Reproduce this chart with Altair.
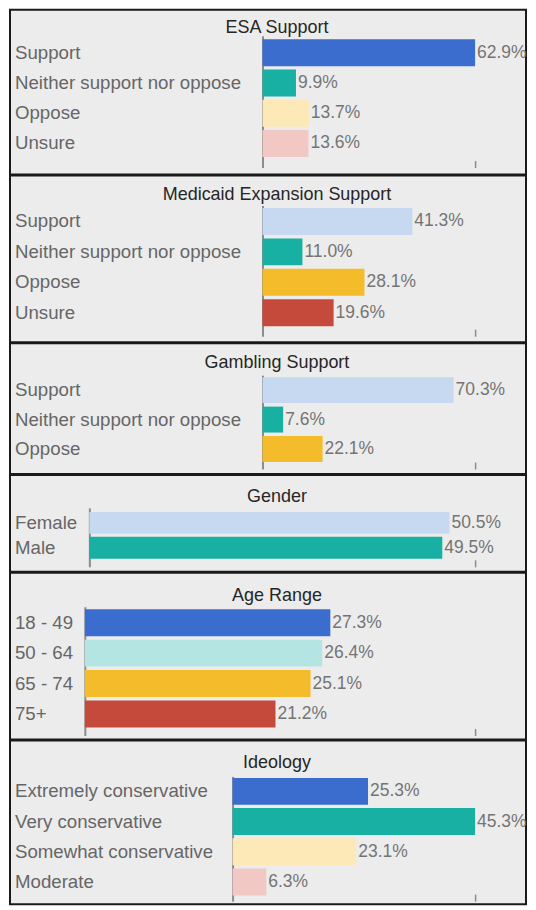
import altair as alt
import pandas as pd

# ---------------- data ----------------
esa_title = "ESA Support"
esa_cats = ["Support", "Neither support nor oppose", "Oppose", "Unsure"]
esa_vals = [62.9, 9.9, 13.7, 13.6]

med_title = "Medicaid Expansion Support"
med_cats = ["Support", "Neither support nor oppose", "Oppose", "Unsure"]
med_vals = [41.3, 11.0, 28.1, 19.6]

gam_title = "Gambling Support"
gam_cats = ["Support", "Neither support nor oppose", "Oppose"]
gam_vals = [70.3, 7.6, 22.1]

gen_title = "Gender"
gen_cats = ["Female", "Male"]
gen_vals = [50.5, 49.5]

age_title = "Age Range"
age_cats = ["18 - 49", "50 - 64", "65 - 74", "75+"]
age_vals = [27.3, 26.4, 25.1, 21.2]

ideo_title = "Ideology"
ideo_cats = ["Extremely conservative", "Very conservative", "Somewhat conservative", "Moderate"]
ideo_vals = [25.3, 45.3, 23.1, 6.3]

# ---------------- styles ----------------
BLUE = "#3a6dcd"
TEAL = "#17b0a2"
LYELLOW = "#fde9b8"
LPINK = "#f2c8c5"
LBLUE = "#c6d9f1"
GOLD = "#f4bc2a"
RED = "#c54a3b"
LCYAN = "#b5e5e3"

esa_colors = [BLUE, TEAL, LYELLOW, LPINK]
med_colors = [LBLUE, TEAL, GOLD, RED]
gam_colors = [LBLUE, TEAL, GOLD]
gen_colors = [LBLUE, TEAL]
age_colors = [BLUE, LCYAN, GOLD, RED]
ideo_colors = [BLUE, TEAL, LYELLOW, LPINK]

FONT = "Liberation Sans"
VIEW_LEFT = 10      # page x of the panel's left edge
VIEW_W = 517        # panel width (right edge at page x 527)
X_END = 476         # page x where each panel's scale ends
TITLE_CX = 277      # page x of the panel titles' centre


def make_panel(title, cats, vals, colors, x0, dmax, H, T, B, c1, step, barh, tb):
    df = pd.DataFrame({"cat": cats, "value": vals})
    n = len(cats)
    pi = 1 - barh / step
    L = B - T
    po = max(0.0, (L / step - n + pi) / 2)
    outer = L - step * (n - pi)
    al = min(1.0, max(0.0, (c1 - barh / 2 - T) / outer)) if outer > 0 else 0.5
    ax = x0 - VIEW_LEFT

    y_enc = alt.Y(
        "cat:N",
        sort=cats,
        scale=alt.Scale(range=[T, B], paddingInner=pi, paddingOuter=po, align=al),
        axis=alt.Axis(
            orient="left",
            offset=-ax,
            ticks=False,
            tickSize=0,
            domainColor="#8c8c8c",
            domainWidth=2,
            labelAlign="left",
            labelBaseline="middle",
            labelPadding=x0 - 14.5,
            labelFontSize=18.7,
            labelColor="#666666",
            labelFont=FONT,
            labelLimit=400,
            title=title,
            titleAngle=0,
            titleX=(TITLE_CX - VIEW_LEFT) - ax,
            titleY=tb,
            titleAlign="center",
            titleBaseline="alphabetic",
            titleFont=FONT,
            titleFontSize=18,
            titleFontWeight="normal",
            titleColor="#262626",
        ),
    )
    x_enc = alt.X(
        "value:Q",
        scale=alt.Scale(domain=[0, dmax], range=[ax, X_END - VIEW_LEFT], nice=False, zero=True),
        axis=alt.Axis(
            orient="bottom",
            offset=(B - 7) - H,
            values=[dmax],
            labels=False,
            domain=False,
            grid=False,
            ticks=True,
            tickSize=7,
            tickColor="#8c8c8c",
            tickWidth=1.5,
            title=None,
        ),
    )
    base = alt.Chart(df).encode(x=x_enc, y=y_enc)
    bars = base.mark_bar().encode(
        color=alt.Color("cat:N", scale=alt.Scale(domain=cats, range=colors), legend=None)
    )
    text = base.transform_calculate(
        label="format(datum.value, '.1f') + '%'"
    ).mark_text(
        align="left", baseline="middle", dx=2, fontSize=17.5, font=FONT, color="#747474"
    ).encode(text="label:N")
    return alt.layer(bars, text).properties(width=VIEW_W, height=H)


p1 = make_panel(esa_title, esa_cats, esa_vals, esa_colors, 263, 62.9, 165, 26, 158, 43, 30.3, 27, 23)
p2 = make_panel(med_title, med_cats, med_vals, med_colors, 263, 58.6, 167, 30, 161, 46, 30.5, 27, 24)
p3 = make_panel(gam_title, gam_cats, gam_vals, gam_colors, 263, 78.2, 131, 32, 126, 47, 29.5, 26, 24)
p4 = make_panel(gen_title, gen_cats, gen_vals, gen_colors, 89.5, 54.1, 97, 33, 92, 48, 25.0, 22, 27)
p5 = make_panel(age_title, age_cats, age_vals, age_colors, 85, 43.4, 167, 34, 163, 50, 30.5, 27, 28)
p6 = make_panel(ideo_title, ideo_cats, ideo_vals, ideo_colors, 233, 45.3, 164, 36, 161, 51, 30.3, 27, 27)

chart = (
    alt.vconcat(p1, p2, p3, p4, p5, p6, spacing=-2)
    .resolve_scale(x="independent", y="independent", color="independent")
    .properties(background="white", padding={"left": 1, "top": 0, "right": 0, "bottom": 0})
    .configure_view(stroke="#1a1a1a", strokeWidth=2, fill="#ececec")
)

chart.save("out.html", embed_options={"renderer": "svg", "actions": False})
